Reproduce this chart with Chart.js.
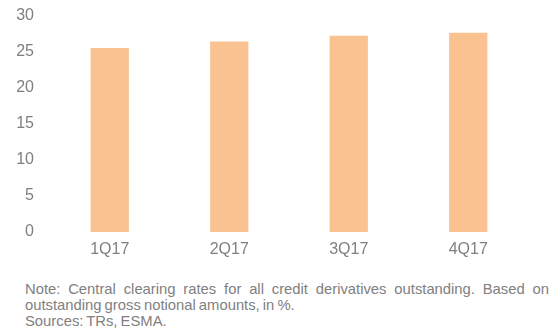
<!DOCTYPE html>
<html>
<head>
<meta charset="utf-8">
<script src="https://cdn.jsdelivr.net/npm/chart.js@4/dist/chart.umd.min.js"></script>
<style>
  html, body { margin: 0; padding: 0; background: #fff; }
  body { width: 555px; height: 334px; position: relative; overflow: hidden; font-family: "Liberation Sans", Arial, sans-serif; }
  #wrap { position: absolute; left: 0; top: 0; width: 555px; height: 265px; }
  #note { position: absolute; left: 25px; top: 281px; width: 524px; font-size: 14.8px; line-height: 16px; color: #808080; word-spacing: -1px; }
  #note .j { text-align: justify; text-align-last: justify; }
</style>
</head>
<body>
<div id="wrap"><canvas id="bars"></canvas></div>
<div id="note">
  <div class="j">Note: Central clearing rates for all credit derivatives outstanding. Based on</div>
  <div>outstanding gross notional amounts, in %.</div>
  <div>Sources: TRs, ESMA.</div>
</div>
<script>
const quarters = ["1Q17", "2Q17", "3Q17", "4Q17"];
const clearingRate = [25.5, 26.4, 27.2, 27.6];
const yTicks = [0, 5, 10, 15, 20, 25, 30];

const grey = "#7f7f7f";

new Chart(document.getElementById("bars"), {
  type: "bar",
  data: {
    labels: quarters,
    datasets: [
      {
        data: clearingRate,
        backgroundColor: "#fac291",
        barPercentage: 0.64,
        categoryPercentage: 0.5,
      },
    ],
  },
  options: {
    responsive: true,
    maintainAspectRatio: false,
    animation: false,
    layout: { padding: { top: 0, right: 27, left: 0, bottom: 0 } },
    plugins: { legend: { display: false }, tooltip: { enabled: false } },
    scales: {
      x: {
        grid: { display: false, drawTicks: false },
        border: { display: false },
        ticks: { color: grey, padding: 8, font: { family: "Liberation Sans", size: 16 } },
        afterFit: (s) => { s.height = 33; },
      },
      y: {
        min: 0,
        max: 30,
        afterBuildTicks: (s) => { s.ticks = yTicks.map((v) => ({ value: v })); },
        grid: { display: false, drawTicks: false },
        border: { display: false },
        ticks: { color: grey, padding: 16, font: { family: "Liberation Sans", size: 16 } },
        afterFit: (s) => {
          s.width = 50;
          s.paddingTop = 15.5;
          s.paddingBottom = 0;
        },
      },
    },
  },
});
</script>
</body>
</html>
